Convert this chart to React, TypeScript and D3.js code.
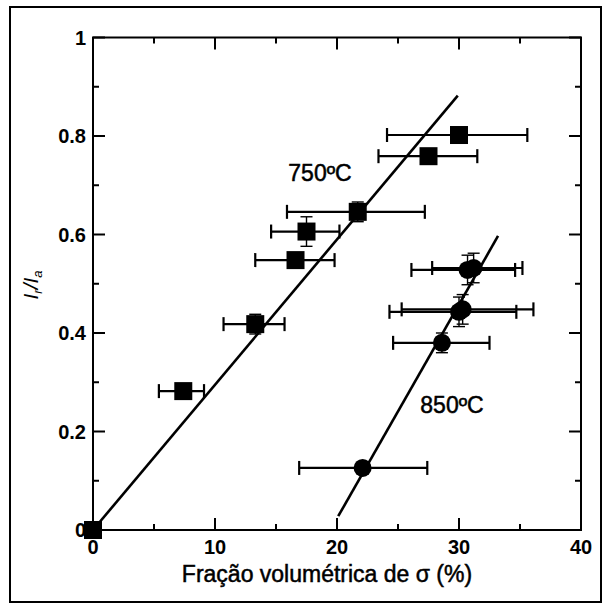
import React from "react";
import * as d3 from "d3";

// 750 °C series (squares)
const x750 = [0, 7.4, 13.3, 16.6, 17.5, 21.7, 27.5, 30.0];
const y750 = [0, 0.282, 0.418, 0.548, 0.606, 0.646, 0.759, 0.802];
const xLo750 = [0, 5.4, 10.7, 13.3, 14.6, 15.9, 23.4, 24.1];
const xHi750 = [0, 9.1, 15.7, 19.8, 20.2, 27.2, 31.5, 35.6];
const yErr750 = [0, 0, 0.02, 0, 0.03, 0.02, 0, 0];

// 850 °C series (circles)
const x850 = [22.1, 28.6, 30.0, 30.3, 30.7, 31.2];
const y850 = [0.126, 0.38, 0.443, 0.448, 0.528, 0.532];
const xLo850 = [16.9, 24.6, 24.3, 25.3, 26.1, 27.8];
const xHi850 = [27.4, 32.5, 34.7, 36.1, 34.6, 35.2];
const yErr850 = [0, 0.02, 0.03, 0.03, 0.03, 0.03];

// Linear fits
const fit750X = [0, 29.9];
const fit750Y = [0, 0.882];
const fit850X = [20.1, 33.2];
const fit850Y = [0.028, 0.597];

const xMajor = [0, 10, 20, 30, 40];
const xMinor = [5, 15, 25, 35];
const xTickLabels = ["0", "10", "20", "30", "40"];
const yMajor = [0, 0.2, 0.4, 0.6, 0.8, 1];
const yMinor = [0.1, 0.3, 0.5, 0.7, 0.9];
const yTickLabels = ["0", "0.2", "0.4", "0.6", "0.8", "1"];

const W = 606;
const H = 609;
const left = 93;
const right = 581;
const top = 37.5;
const bottom = 530;

const FONT = "'Liberation Sans', Arial, Helvetica, sans-serif";

export default function App() {
  const x = d3.scaleLinear().domain([0, 40]).range([left, right]);
  const y = d3.scaleLinear().domain([0, 1]).range([bottom, top]);
  const line = d3
    .line<[number, number]>()
    .x((d) => x(d[0]))
    .y((d) => y(d[1]));

  const majorLen = 12;
  const minorLen = 6;
  const capH = 7;
  const capW = 6;

  const errBars = (
    xs: number[],
    ys: number[],
    lo: number[],
    hi: number[],
    ye: number[],
    key: string
  ) =>
    xs.map((xv, i) => (
      <g key={key + i} stroke="#000">
        {hi[i] > lo[i] && (
          <g strokeWidth={2.2}>
            <line x1={x(lo[i])} x2={x(hi[i])} y1={y(ys[i])} y2={y(ys[i])} />
            <line x1={x(lo[i])} x2={x(lo[i])} y1={y(ys[i]) - capH} y2={y(ys[i]) + capH} />
            <line x1={x(hi[i])} x2={x(hi[i])} y1={y(ys[i]) - capH} y2={y(ys[i]) + capH} />
          </g>
        )}
        {ye[i] > 0 && (
          <g strokeWidth={1.4}>
            <line x1={x(xv)} x2={x(xv)} y1={y(ys[i] - ye[i])} y2={y(ys[i] + ye[i])} />
            <line x1={x(xv) - capW} x2={x(xv) + capW} y1={y(ys[i] - ye[i])} y2={y(ys[i] - ye[i])} />
            <line x1={x(xv) - capW} x2={x(xv) + capW} y1={y(ys[i] + ye[i])} y2={y(ys[i] + ye[i])} />
          </g>
        )}
      </g>
    ));

  return (
    <svg
      width={W}
      height={H}
      style={{ position: "absolute", left: 0, top: 0, background: "#fff" }}
      fontFamily={FONT}
    >
      <rect x={0} y={0} width={W} height={H} fill="#fff" />
      {/* outer frame */}
      <rect x={10} y={7} width={591} height={595} fill="none" stroke="#000" strokeWidth={2} />

      {/* plot frame */}
      <rect
        x={left}
        y={top}
        width={right - left}
        height={bottom - top}
        fill="none"
        stroke="#000"
        strokeWidth={2}
      />

      {/* ticks, pointing inward on all four sides */}
      <g stroke="#000" strokeWidth={2}>
        {xMajor.map((t) => (
          <g key={"xm" + t}>
            <line x1={x(t)} x2={x(t)} y1={bottom} y2={bottom - majorLen} />
            <line x1={x(t)} x2={x(t)} y1={top} y2={top + majorLen} />
          </g>
        ))}
        {xMinor.map((t) => (
          <g key={"xn" + t}>
            <line x1={x(t)} x2={x(t)} y1={bottom} y2={bottom - minorLen} />
            <line x1={x(t)} x2={x(t)} y1={top} y2={top + minorLen} />
          </g>
        ))}
        {yMajor.map((t) => (
          <g key={"ym" + t}>
            <line x1={left} x2={left + majorLen} y1={y(t)} y2={y(t)} />
            <line x1={right} x2={right - majorLen} y1={y(t)} y2={y(t)} />
          </g>
        ))}
        {yMinor.map((t) => (
          <g key={"yn" + t}>
            <line x1={left} x2={left + minorLen} y1={y(t)} y2={y(t)} />
            <line x1={right} x2={right - minorLen} y1={y(t)} y2={y(t)} />
          </g>
        ))}
      </g>

      {/* tick labels */}
      <g fontSize={20} fontWeight="bold" fill="#000">
        {xMajor.map((t, i) => (
          <text key={"xl" + t} x={x(t)} y={554} textAnchor="middle">
            {xTickLabels[i]}
          </text>
        ))}
        {yMajor.map((t, i) => (
          <text key={"yl" + t} x={86} y={y(t) + 7} textAnchor="end">
            {yTickLabels[i]}
          </text>
        ))}
      </g>

      {/* axis titles */}
      <text
        x={327}
        y={582}
        textAnchor="middle"
        fontSize={23}
        fill="#000"
        stroke="#000"
        strokeWidth={0.5}
      >
        Fração volumétrica de σ (%)
      </text>
      <text
        transform="translate(38,285) rotate(-90)"
        textAnchor="middle"
        fontSize={21}
        fontStyle="italic"
        fill="#000"
      >
        I<tspan fontSize={13} dy={4}>r</tspan>
        <tspan dy={-4}>/I</tspan>
        <tspan fontSize={13} dy={4}>a</tspan>
      </text>

      {/* fit lines */}
      <path
        d={line(fit750X.map((v, i) => [v, fit750Y[i]]) as [number, number][]) || ""}
        fill="none"
        stroke="#000"
        strokeWidth={2.6}
      />
      <path
        d={line(fit850X.map((v, i) => [v, fit850Y[i]]) as [number, number][]) || ""}
        fill="none"
        stroke="#000"
        strokeWidth={2.6}
      />

      {/* error bars */}
      {errBars(x750, y750, xLo750, xHi750, yErr750, "e7")}
      {errBars(x850, y850, xLo850, xHi850, yErr850, "e8")}

      {/* markers */}
      {x750.map((v, i) => (
        <rect key={"s" + i} x={x(v) - 9} y={y(y750[i]) - 9} width={18} height={18} fill="#000" />
      ))}
      {x850.map((v, i) => (
        <circle key={"c" + i} cx={x(v)} cy={y(y850[i])} r={9} fill="#000" />
      ))}

      {/* series labels */}
      <g fontSize={23} fill="#000" stroke="#000" strokeWidth={0.5} textAnchor="middle">
        <text x={320} y={181}>
          750ºC
        </text>
        <text x={452} y={413}>
          850ºC
        </text>
      </g>
    </svg>
  );
}
